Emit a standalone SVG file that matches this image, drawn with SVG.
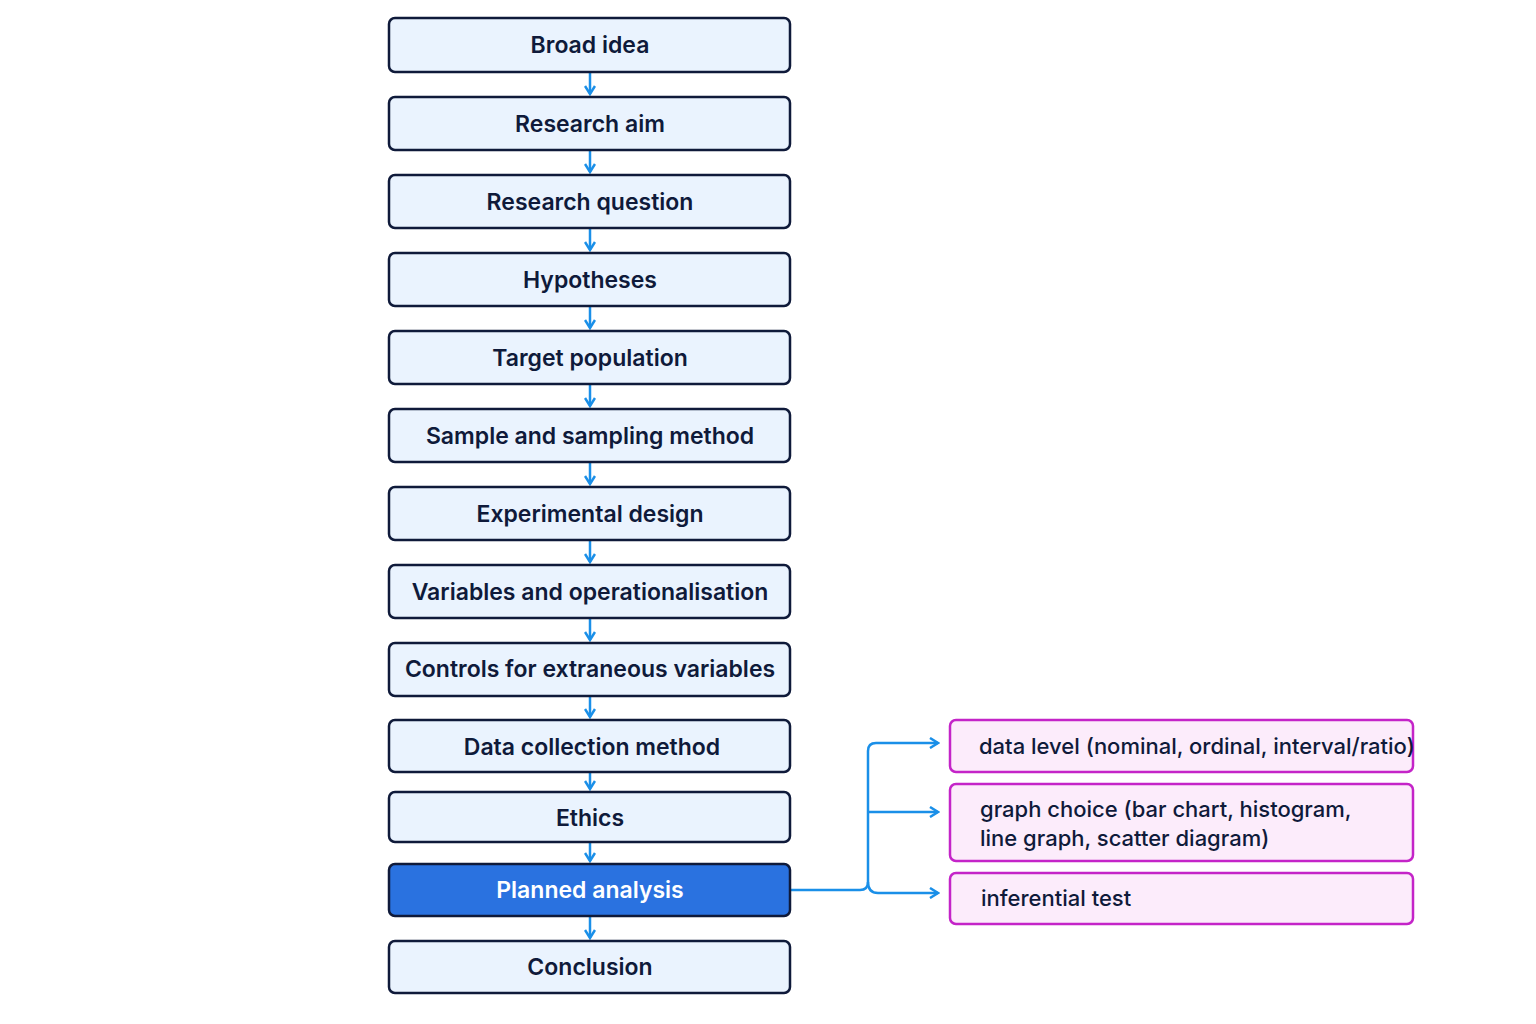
<svg xmlns="http://www.w3.org/2000/svg" width="1536" height="1024" viewBox="0 0 1536 1024">
<style>
.n{fill:#eaf3fe;stroke:#0f1a3a;stroke-width:2.5}
.h{fill:#2a72e0;stroke:#0f1a3a;stroke-width:2.5}
.p{fill:#fcecfb;stroke:#c424c8;stroke-width:2.5}
.t{font-family:Inter,"Liberation Sans",sans-serif;font-size:23px;font-weight:600;fill:#0f1a3a;text-anchor:middle}
.tw{fill:#fff}
.s{font-family:Inter,"Liberation Sans",sans-serif;font-size:22px;font-weight:500;fill:#0f1a3a}
.c{fill:none;stroke:#1a8fe8;stroke-width:2.5}
</style>
<defs><marker id="a" viewBox="0 0 12 12" refX="10" refY="6" markerWidth="12" markerHeight="12" markerUnits="userSpaceOnUse" orient="auto"><path d="M2,1 L10,6 L2,11" fill="none" stroke="#1a8fe8" stroke-width="2.5"/></marker></defs>
<rect width="1536" height="1024" fill="#fff"/>
<g id="connectors">
<path class="c" marker-end="url(#a)" d="M590,73 V94"/>
<path class="c" marker-end="url(#a)" d="M590,151 V172"/>
<path class="c" marker-end="url(#a)" d="M590,229 V250"/>
<path class="c" marker-end="url(#a)" d="M590,307 V328"/>
<path class="c" marker-end="url(#a)" d="M590,385 V406"/>
<path class="c" marker-end="url(#a)" d="M590,463 V484"/>
<path class="c" marker-end="url(#a)" d="M590,541 V562"/>
<path class="c" marker-end="url(#a)" d="M590,619 V640"/>
<path class="c" marker-end="url(#a)" d="M590,697 V717"/>
<path class="c" marker-end="url(#a)" d="M590,773 V789"/>
<path class="c" marker-end="url(#a)" d="M590,843 V861"/>
<path class="c" marker-end="url(#a)" d="M590,917 V938"/>
<path class="c" d="M791,890 H860 Q868,890 868,882 V751 Q868,743 876,743 H938" marker-end="url(#a)"/>
<path class="c" marker-end="url(#a)" d="M868,812 H938"/>
<path class="c" marker-end="url(#a)" d="M868,882 Q868,893 878,893 H938"/>
</g>
<g id="n1"><rect class="n" x="389" y="18" width="401" height="54" rx="6"/><text class="t" x="590" y="53">Broad idea</text></g>
<g id="n2"><rect class="n" x="389" y="97" width="401" height="53" rx="6"/><text class="t" x="590" y="132">Research aim</text></g>
<g id="n3"><rect class="n" x="389" y="175" width="401" height="53" rx="6"/><text class="t" x="590" y="210">Research question</text></g>
<g id="n4"><rect class="n" x="389" y="253" width="401" height="53" rx="6"/><text class="t" x="590" y="288">Hypotheses</text></g>
<g id="n5"><rect class="n" x="389" y="331" width="401" height="53" rx="6"/><text class="t" x="590" y="366">Target population</text></g>
<g id="n6"><rect class="n" x="389" y="409" width="401" height="53" rx="6"/><text class="t" x="590" y="444">Sample and sampling method</text></g>
<g id="n7"><rect class="n" x="389" y="487" width="401" height="53" rx="6"/><text class="t" x="590" y="522">Experimental design</text></g>
<g id="n8"><rect class="n" x="389" y="565" width="401" height="53" rx="6"/><text class="t" x="590" y="600">Variables and operationalisation</text></g>
<g id="n9"><rect class="n" x="389" y="643" width="401" height="53" rx="6"/><text class="t" x="590" y="677">Controls for extraneous variables</text></g>
<g id="n10"><rect class="n" x="389" y="720" width="401" height="52" rx="6"/><text class="t" x="592" y="755">Data collection method</text></g>
<g id="n11"><rect class="n" x="389" y="792" width="401" height="50" rx="6"/><text class="t" x="590" y="826">Ethics</text></g>
<g id="n12"><rect class="h" x="389" y="864" width="401" height="52" rx="6"/><text class="t tw" x="590" y="898">Planned analysis</text></g>
<g id="n13"><rect class="n" x="389" y="941" width="401" height="52" rx="6"/><text class="t" x="590" y="975">Conclusion</text></g>
<g id="r1"><rect class="p" x="950" y="720" width="463" height="52" rx="6"/><text class="s" x="979" y="754">data level (nominal, ordinal, interval/ratio)</text></g>
<g id="r2"><rect class="p" x="950" y="784" width="463" height="77" rx="6"/><text class="s" x="980" y="817">graph choice (bar chart, histogram,</text><text class="s" x="980" y="846">line graph, scatter diagram)</text></g>
<g id="r3"><rect class="p" x="950" y="873" width="463" height="51" rx="6"/><text class="s" x="981" y="906">inferential test</text></g>
</svg>
